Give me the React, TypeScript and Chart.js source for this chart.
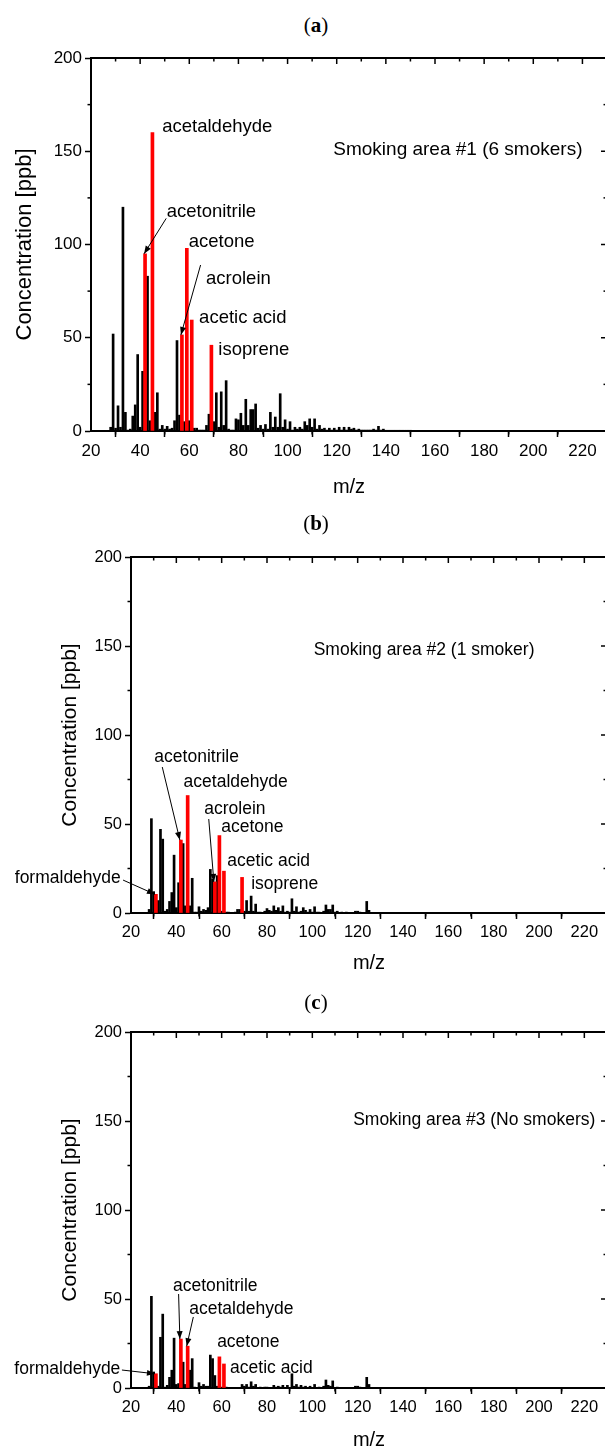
import React, { useEffect, useRef } from 'react';
import { Chart, registerables } from 'chart.js';

Chart.register(...registerables);

// ---------------- DATA ----------------
// Shared axis tick labels
const xTickLabels = ['20', '40', '60', '80', '100', '120', '140', '160', '180', '200', '220'];
const yTickLabels = ['0', '50', '100', '150', '200'];

// Panel (a) – Smoking area #1 (6 smokers)
const mzA = [28, 29, 30, 31, 32, 33, 34, 35, 36, 37, 38, 39, 40, 41, 43, 44, 46, 47, 48, 49, 50, 51, 52, 53, 54, 55, 56, 58, 60, 62, 63, 64, 65, 66, 67, 68, 70, 71, 72, 73, 74, 75, 76, 77, 78, 79, 80, 81, 82, 83, 84, 85, 86, 87, 88, 89, 90, 91, 92, 93, 94, 95, 96, 97, 98, 99, 100, 101, 102, 103, 104, 105, 106, 107, 108, 109, 110, 111, 112, 113, 114, 115, 116, 117, 118, 119, 120, 121, 122, 123, 124, 125, 126, 127, 128, 129, 130, 131, 132, 133, 134, 135, 136, 137, 138, 139, 140, 141, 142, 143, 144, 145, 146, 147, 148, 149, 150];
const concA = [2, 52, 1.5, 13.5, 2, 120, 10, 0.5, 1, 8, 14, 41, 2, 32, 83, 5.5, 10, 20.5, 1, 3, 1, 2.5, 1, 1.5, 5.5, 48.5, 8.5, 5, 5.5, 1.5, 1.5, 0.5, 0.5, 0.5, 3, 9, 5, 20.5, 2, 21, 3, 27, 1, 0.5, 0.5, 6.5, 6, 9.5, 3, 17, 3, 11.5, 11.5, 14.5, 1.5, 3, 1, 3.5, 1, 10, 2, 7.5, 2, 20, 2, 6, 1, 5, 0.5, 2, 1, 2, 1, 5, 3, 6.5, 2, 6.5, 1, 3, 1, 1.5, 0.5, 1.5, 0.5, 1.5, 0.5, 2, 0.5, 2, 0.5, 2, 1, 1.5, 0.5, 1, 0.5, 0.5, 0.5, 0.5, 0.5, 1, 0.5, 2.5, 0.5, 1, 0.4, 0.4, 0.4, 0.4, 0.4, 0.4, 0.4, 0.4, 0.4, 0.4, 0.4];
const mzRedA = [42, 45, 57, 59, 61, 69];
const concRedA = [95, 160, 51.5, 98, 59.5, 46];
const namesA = ['acetonitrile', 'acetaldehyde', 'acrolein', 'acetone', 'acetic acid', 'isoprene'];

// Panel (b) – Smoking area #2 (1 smoker)
const mzB = [28, 29, 30, 32, 33, 34, 35, 36, 37, 38, 39, 40, 41, 43, 44, 46, 47, 48, 49, 50, 51, 52, 53, 54, 55, 56, 58, 60, 62, 63, 64, 66, 67, 68, 70, 71, 72, 73, 74, 75, 76, 77, 79, 80, 81, 82, 83, 84, 85, 86, 87, 88, 89, 90, 91, 92, 93, 94, 95, 96, 97, 98, 99, 100, 101, 102, 103, 105, 106, 107, 108, 109, 110, 111, 113, 115, 117, 119, 120, 121, 123, 124, 125, 126, 127, 128, 129, 130, 131, 132, 133, 134, 135, 136, 137, 138, 139, 140];
const concB = [2, 53, 12, 7, 47, 41.5, 1, 2, 6.5, 11.5, 32.5, 3, 17, 39, 4, 4, 19.5, 0.5, 0.5, 3.5, 1, 2, 1.5, 3, 24.5, 19, 21, 1, 0.5, 0.5, 0.3, 0.5, 2, 2, 1, 7, 1, 9.5, 1, 5, 0.5, 0.5, 1, 2.5, 1.5, 1, 4, 1.5, 3, 1, 4, 0.5, 1, 0.5, 8, 1, 3.5, 0.5, 1, 3, 1.5, 0.5, 2, 0.5, 3.5, 0.5, 0.5, 1, 4.5, 2, 2, 4.5, 0.5, 1, 0.5, 0.5, 0.3, 1, 1, 0.5, 0.3, 6.5, 1.5, 0.3, 0.3, 0.3, 0.3, 0.3, 0.3, 0.3, 0.3, 0.3, 0.3, 0.3, 0.3, 0.3, 0.3, 0.3];
const mzRedB = [31, 42, 45, 57, 59, 61, 69];
const concRedB = [10.5, 41, 66, 17.5, 43.5, 23.5, 20];
const namesB = ['formaldehyde', 'acetonitrile', 'acetaldehyde', 'acrolein', 'acetone', 'acetic acid', 'isoprene'];

// Panel (c) – Smoking area #3 (No smokers)
const mzC = [28, 29, 30, 32, 33, 34, 35, 36, 37, 38, 39, 40, 41, 43, 44, 46, 47, 48, 50, 51, 52, 53, 54, 55, 56, 57, 58, 60, 62, 65, 67, 69, 70, 71, 72, 73, 74, 75, 77, 79, 80, 83, 84, 85, 86, 87, 89, 91, 92, 93, 94, 95, 96, 97, 99, 101, 103, 105, 106, 107, 108, 109, 111, 113, 115, 119, 120, 121, 124, 125, 127, 128, 129, 130, 131, 132, 133, 134, 135, 136, 137, 138, 139, 140];
const concC = [1, 51.5, 9, 1, 28.5, 41.5, 0.5, 1.5, 6, 10, 28, 2, 2.5, 14.5, 2, 10, 16.5, 0.5, 3, 1, 2, 1, 1, 18.5, 16.5, 7, 1, 0.5, 0.5, 0.3, 0.3, 2, 1, 2, 0.5, 3.5, 1, 2, 0.5, 0.5, 0.5, 1.5, 0.5, 1, 0.5, 1.5, 1.5, 8, 1, 2, 0.5, 1.5, 0.5, 1, 1, 2, 0.5, 1, 4.5, 1.5, 1, 4, 0.5, 0.3, 0.3, 1, 1, 0.5, 6, 2, 0.3, 0.3, 0.3, 0.3, 0.3, 0.3, 0.3, 0.3, 0.3, 0.3, 0.3, 0.3, 0.3, 0.3];
const mzRedC = [31, 42, 45, 59, 61];
const concRedC = [8, 27.5, 23.5, 17.5, 13.5];
const namesC = ['formaldehyde', 'acetonitrile', 'acetaldehyde', 'acetone', 'acetic acid'];

const insetA = 'Smoking area #1 (6 smokers)';
const insetB = 'Smoking area #2 (1 smoker)';
const insetC = 'Smoking area #3 (No smokers)';

// ---------------- LAYOUT / STYLE ----------------
const FONT = '"Liberation Sans", Arial, Helvetica, sans-serif';

type Ann = { idx: number; at: [number, number]; align?: 'left' | 'right'; from?: [number, number] };

const annA: Ann[] = [
  { idx: 1, at: [49, 163] },
  { idx: 0, at: [50.8, 117.4], from: [50.6, 114] },
  { idx: 3, at: [59.8, 101.6] },
  { idx: 2, at: [66.8, 81.5], from: [64.6, 89] },
  { idx: 4, at: [64, 60.6] },
  { idx: 5, at: [71.8, 43.4] },
];
const annB: Ann[] = [
  { idx: 1, at: [30.3, 87.6], from: [33.8, 82] },
  { idx: 2, at: [43.2, 73.6] },
  { idx: 3, at: [52.3, 58.4], from: [54.3, 52.8] },
  { idx: 4, at: [59.8, 48.3] },
  { idx: 5, at: [62.5, 29] },
  { idx: 6, at: [73, 16.3] },
  { idx: 0, at: [15.5, 19.7], align: 'right', from: [16.5, 18.5] },
];
const annC: Ann[] = [
  { idx: 1, at: [38.5, 57.3], from: [41, 52.8] },
  { idx: 2, at: [45.7, 44.4], from: [47.5, 39.9] },
  { idx: 3, at: [58, 25.8] },
  { idx: 4, at: [63.7, 11.2] },
  { idx: 0, at: [15.3, 10.7], align: 'right', from: [16, 10.1] },
];

const panels = [
  {
    key: 'a', letter: 'a', titleY: 25, top: 40, height: 460, axisLeft: 91, plotTop: 58, plotBottom: 431,
    yTitleX: 25, xTitleY: 487, mz: mzA, conc: concA, mzRed: mzRedA, concRed: concRedA, names: namesA,
    ann: annA, inset: insetA, insetAt: [118.6, 151] as [number, number],
    tickSize: 17, annSize: 18.5, insetSize: 19, yTitleSize: 22, xTitleSize: 20,
  },
  {
    key: 'b', letter: 'b', titleY: 523, top: 530, height: 450, axisLeft: 131, plotTop: 557, plotBottom: 913,
    yTitleX: 70, xTitleY: 963, mz: mzB, conc: concB, mzRed: mzRedB, concRed: concRedB, names: namesB,
    ann: annB, inset: insetB, insetAt: [100.6, 147.8] as [number, number],
    tickSize: 16.5, annSize: 17.5, insetSize: 17.5, yTitleSize: 21, xTitleSize: 20,
  },
  {
    key: 'c', letter: 'c', titleY: 1002, top: 1010, height: 439, axisLeft: 131, plotTop: 1032, plotBottom: 1388,
    yTitleX: 70, xTitleY: 1440, mz: mzC, conc: concC, mzRed: mzRedC, concRed: concRedC, names: namesC,
    ann: annC, inset: insetC, insetAt: [118, 150.2] as [number, number],
    tickSize: 16.5, annSize: 17.5, insetSize: 17.5, yTitleSize: 21, xTitleSize: 20,
  },
];

const CANVAS_W = 612;
const PLOT_RIGHT = 607;

const extrasPlugin = {
  id: 'extras',
  afterDraw(chart: any, _args: any, opts: any) {
    const { ctx, chartArea: ca } = chart;
    const xs = chart.scales.x;
    const ys = chart.scales.y;
    const line = (x1: number, y1: number, x2: number, y2: number) => {
      ctx.beginPath();
      ctx.moveTo(x1, y1);
      ctx.lineTo(x2, y2);
      ctx.stroke();
    };
    ctx.save();
    ctx.strokeStyle = '#000';
    ctx.fillStyle = '#000';
    ctx.lineWidth = 2;
    line(ca.left - 1, ca.top, ca.right + 1, ca.top);
    line(ca.right, ca.top, ca.right, ca.bottom);
    ctx.lineWidth = 1.5;
    for (let v = 20; v <= 230; v += 10) {
      const px = xs.getPixelForValue(v);
      const major = v % 20 === 0;
      const len = major ? 6 : 3.5;
      line(px, ca.top, px, ca.top + len);
      if (!major) line(px, ca.bottom, px, ca.bottom + len);
    }
    for (let v = 0; v <= 200; v += 25) {
      const py = ys.getPixelForValue(v);
      const major = v % 50 === 0;
      const len = major ? 6 : 3.5;
      line(ca.right, py, ca.right - len, py);
      if (!major) line(ca.left, py, ca.left - len, py);
    }

    // annotations
    ctx.font = `${opts.annSize}px ${FONT}`;
    ctx.textBaseline = 'middle';
    (opts.ann as Ann[]).forEach((a) => {
      const tx = xs.getPixelForValue(a.at[0]);
      const ty = ys.getPixelForValue(a.at[1]);
      ctx.textAlign = a.align === 'right' ? 'right' : 'left';
      ctx.fillText(opts.names[a.idx], tx, ty);
      if (a.from) {
        const fx = xs.getPixelForValue(a.from[0]);
        const fy = ys.getPixelForValue(a.from[1]);
        const ex = xs.getPixelForValue(opts.mzRed[a.idx]) - 1;
        const ey = ys.getPixelForValue(opts.concRed[a.idx]);
        ctx.lineWidth = 1;
        line(fx, fy, ex, ey);
        const ang = Math.atan2(ey - fy, ex - fx);
        const L = 8, W = 3;
        ctx.beginPath();
        ctx.moveTo(ex, ey);
        ctx.lineTo(ex - L * Math.cos(ang) + W * Math.sin(ang), ey - L * Math.sin(ang) - W * Math.cos(ang));
        ctx.lineTo(ex - L * Math.cos(ang) - W * Math.sin(ang), ey - L * Math.sin(ang) + W * Math.cos(ang));
        ctx.closePath();
        ctx.fill();
      }
    });
    // inset label
    ctx.font = `${opts.insetSize}px ${FONT}`;
    ctx.textAlign = 'left';
    ctx.fillText(opts.inset, xs.getPixelForValue(opts.insetAt[0]), ys.getPixelForValue(opts.insetAt[1]));
    ctx.restore();
  },
};

function Panel({ p }: { p: (typeof panels)[number] }) {
  const ref = useRef<HTMLCanvasElement | null>(null);
  useEffect(() => {
    if (!ref.current) return;
    const yLH = p.yTitleSize * 1.2;
    const xLH = p.xTitleSize * 1.2;
    const plotBottomC = p.plotBottom - p.top;
    const xHeight = p.height - plotBottomC;
    const xTitleYC = p.xTitleY - p.top;
    const chart = new Chart(ref.current, {
      type: 'bar',
      data: {
        datasets: [
          {
            label: 'VOCs',
            data: p.mzRed.map((m, i) => ({ x: m, y: p.concRed[i] })),
            backgroundColor: '#ff0000',
            barThickness: 3,
            grouped: false,
            order: 1,
          } as any,
          {
            label: 'other ions',
            data: p.mz.map((m, i) => ({ x: m, y: p.conc[i] })),
            backgroundColor: '#000000',
            barThickness: 2,
            grouped: false,
            order: 2,
          } as any,
        ],
      },
      options: {
        animation: false,
        responsive: false,
        layout: { padding: { top: p.plotTop - p.top, left: 0, right: CANVAS_W - PLOT_RIGHT, bottom: 0 } },
        plugins: {
          legend: { display: false },
          tooltip: { enabled: false },
          title: { display: false },
          extras: {
            ann: p.ann, names: p.names, mzRed: p.mzRed, concRed: p.concRed,
            inset: p.inset, insetAt: p.insetAt, annSize: p.annSize, insetSize: p.insetSize,
          },
        } as any,
        scales: {
          x: {
            type: 'linear',
            min: 20,
            max: 230,
            offset: false,
            afterFit: (s: any) => { s.height = xHeight; },
            afterBuildTicks: (s: any) => {
              s.ticks = xTickLabels.map((l) => ({ value: Number(l) }));
            },
            ticks: {
              autoSkip: false,
              maxRotation: 0,
              color: '#000',
              padding: 4,
              font: { family: FONT, size: p.tickSize },
              callback: (v: any) => String(v),
            },
            grid: { drawOnChartArea: false, drawTicks: true, tickLength: 6, tickWidth: 1.5, tickColor: '#000' },
            border: { display: true, width: 2, color: '#000' },
            title: {
              display: true,
              text: 'm/z',
              color: '#000',
              font: { family: FONT, size: p.xTitleSize },
              padding: { top: 0, bottom: p.height - xTitleYC - xLH / 2 },
            },
          },
          y: {
            type: 'linear',
            min: 0,
            max: 200,
            afterFit: (s: any) => { s.width = p.axisLeft; },
            afterBuildTicks: (s: any) => {
              s.ticks = yTickLabels.map((l) => ({ value: Number(l) }));
            },
            ticks: {
              color: '#000',
              padding: 3,
              font: { family: FONT, size: p.tickSize },
              callback: (v: any) => String(v),
            },
            grid: { drawOnChartArea: false, drawTicks: true, tickLength: 6, tickWidth: 1.5, tickColor: '#000' },
            border: { display: true, width: 2, color: '#000' },
            title: {
              display: true,
              text: 'Concentration [ppb]',
              color: '#000',
              font: { family: FONT, size: p.yTitleSize },
              padding: { top: p.yTitleX - yLH / 2, bottom: 0 },
            },
          },
        },
      },
      plugins: [extrasPlugin],
    });
    return () => chart.destroy();
  }, [p]);

  return (
    <>
      <canvas
        ref={ref}
        width={CANVAS_W}
        height={p.height}
        style={{ position: 'absolute', left: 0, top: p.top, width: CANVAS_W, height: p.height }}
      />
      <div
        style={{
          position: 'absolute',
          left: 316,
          top: p.titleY,
          transform: 'translate(-50%, -50%)',
          fontFamily: '"Liberation Serif", "DejaVu Serif", serif',
          fontSize: 21,
          color: '#000',
          whiteSpace: 'nowrap',
          lineHeight: 1,
        }}
      >
        (<b>{p.letter}</b>)
      </div>
    </>
  );
}

export default function App() {
  return (
    <div
      style={{
        position: 'absolute',
        left: 0,
        top: 0,
        width: 605,
        height: 1449,
        overflow: 'hidden',
        background: '#fff',
      }}
    >
      {panels.map((p) => (
        <Panel key={p.key} p={p} />
      ))}
    </div>
  );
}
